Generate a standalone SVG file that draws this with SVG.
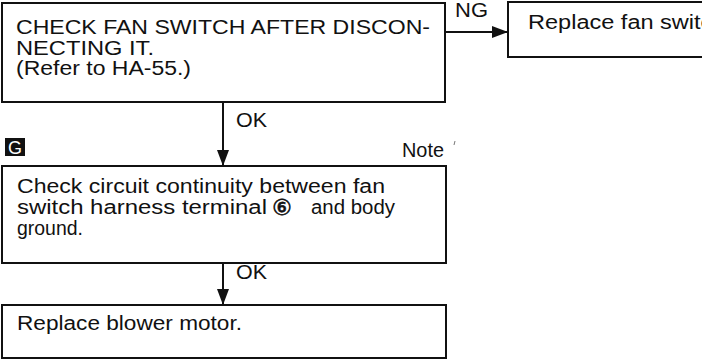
<svg xmlns="http://www.w3.org/2000/svg" width="702" height="360" viewBox="0 0 702 360">
<style>
.box{fill:#fff;stroke:#111;stroke-width:2}
.t{font-family:"Liberation Sans",Arial,sans-serif;font-size:20px;fill:#111}
.lbl{font-family:"Liberation Sans",Arial,sans-serif;font-size:20px;fill:#111}
.conn{stroke:#111;stroke-width:2;fill:none}
.circ{font-family:"DejaVu Sans",sans-serif;font-size:22px;stroke:#111;stroke-width:0.6}
</style>
<defs>
<marker id="ah" markerUnits="userSpaceOnUse" markerWidth="16" markerHeight="14" viewBox="0 0 16 14" refX="16" refY="7" orient="auto">
<path d="M0,1 L16,7 L0,13 Z" fill="#111"/>
</marker>
</defs>
<rect width="702" height="360" fill="#fff"/>
<g id="connectors">
<line class="conn" x1="445" y1="32" x2="508" y2="32" marker-end="url(#ah)"/>
<line class="conn" x1="223" y1="102" x2="223" y2="166" marker-end="url(#ah)"/>
<line class="conn" x1="223" y1="263" x2="223" y2="305" marker-end="url(#ah)"/>
<text class="lbl" x="455" y="17" textLength="33" lengthAdjust="spacingAndGlyphs">NG</text>
<text class="lbl" x="236" y="127" textLength="31" lengthAdjust="spacingAndGlyphs">OK</text>
<text class="lbl" x="236" y="279" textLength="31" lengthAdjust="spacingAndGlyphs">OK</text>
</g>
<g id="node-check-fan-switch">
<rect class="box" x="2" y="3" width="443" height="99"/>
<text class="t" x="16" y="34" textLength="414" lengthAdjust="spacingAndGlyphs">CHECK FAN SWITCH AFTER DISCON-</text>
<text class="t" x="16" y="55" textLength="138" lengthAdjust="spacingAndGlyphs">NECTING IT.</text>
<text class="t" x="16" y="75" textLength="175" lengthAdjust="spacingAndGlyphs">(Refer to HA-55.)</text>
</g>
<g id="node-replace-fan-switch">
<rect class="box" x="508" y="2" width="210" height="55"/>
<text class="t" x="528" y="29" textLength="204" lengthAdjust="spacingAndGlyphs">Replace fan switch.</text>
</g>
<g id="marker-G">
<rect x="5" y="138" width="20" height="18" fill="#111"/>
<text x="15" y="154" text-anchor="middle" font-family="'Liberation Sans',Arial,sans-serif" font-size="18" fill="#fff">G</text>
</g>
<g id="note">
<text class="lbl" x="402" y="157" textLength="42" lengthAdjust="spacingAndGlyphs">Note</text>
<line x1="455" y1="141" x2="454" y2="145" stroke="#777" stroke-width="1"/>
</g>
<g id="node-check-continuity">
<rect class="box" x="2" y="166" width="444" height="97"/>
<text class="t" x="17" y="193" textLength="368" lengthAdjust="spacingAndGlyphs">Check circuit continuity between fan</text>
<text class="t" y="214"><tspan x="17" textLength="250" lengthAdjust="spacingAndGlyphs">switch harness terminal</tspan><tspan class="circ" x="272" y="215">⑥</tspan><tspan x="311" y="214" textLength="84" lengthAdjust="spacingAndGlyphs">and body</tspan></text>
<text class="t" x="17" y="235" textLength="66" lengthAdjust="spacingAndGlyphs">ground.</text>
</g>
<g id="node-replace-blower">
<rect class="box" x="2" y="305" width="444" height="53"/>
<text class="t" x="17" y="330" textLength="225" lengthAdjust="spacingAndGlyphs">Replace blower motor.</text>
</g>
</svg>
